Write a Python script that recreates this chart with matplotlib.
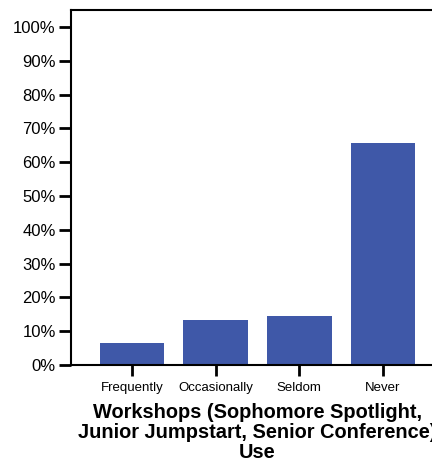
import matplotlib.pyplot as plt
import numpy as np

categories = ['Frequently', 'Occasionally', 'Seldom', 'Never']
percents = [6.6, 13.3, 14.5, 65.7]
y_ticks = [0, 10, 20, 30, 40, 50, 60, 70, 80, 90, 100]

plt.rcParams['font.family'] = ['Liberation Sans', 'DejaVu Sans']

fig = plt.figure(figsize=(4.32, 4.62), dpi=100)
# axes spill past the right edge, as in the original export
ax = fig.add_axes([71 / 432, (462 - 365) / 462, (444 - 71) / 432, (365 - 10) / 462])

x = np.arange(len(categories))
ax.bar(x, percents, width=0.77, color='#3f58a8', zorder=2)

ax.set_xlim(-0.73, 3.73)
ax.set_ylim(0, 105)
ax.set_yticks(y_ticks)
ax.set_yticklabels([f'{v}%' for v in y_ticks], fontsize=12)
ax.set_xticks(x)
ax.set_xticklabels(categories, fontsize=9.5)

ax.tick_params(axis='y', length=9, width=2, pad=2)
ax.tick_params(axis='x', length=8, width=2, pad=4)
for side in ['left', 'bottom', 'top']:
    ax.spines[side].set_linewidth(1.5)
ax.spines['right'].set_visible(False)

ax.set_xlabel('Workshops (Sophomore Spotlight,\nJunior Jumpstart, Senior Conference)\nUse',
              fontsize=14.4, fontweight='bold', linespacing=1.05, labelpad=7)

fig.savefig('out.png', dpi=100)
